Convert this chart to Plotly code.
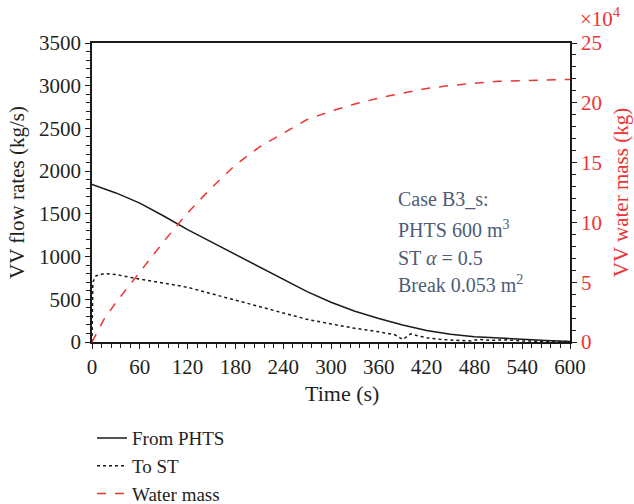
import plotly.graph_objects as go

# Time (s)
t_phts = [0, 30, 60, 90, 120, 150, 180, 210, 240, 270, 300, 330, 360, 390, 420, 450, 480, 510, 540, 570, 600]
from_phts = [1845, 1745, 1625, 1475, 1315, 1170, 1024, 880, 733, 590, 465, 360, 275, 200, 135, 90, 62, 45, 30, 17, 7]

t_st = [0, 1, 5, 15, 30, 60, 90, 120, 150, 180, 210, 240, 270, 300, 330, 360, 380, 390, 395, 400, 410,
        420, 440, 460, 475, 485, 500, 520, 540, 570, 600]
to_st = [0, 700, 775, 800, 790, 735, 690, 640, 565, 490, 415, 340, 265, 212, 160, 120, 85, 30, 60, 95, 70,
         50, 28, 18, 12, 30, 20, 25, 12, 8, 4]

t_mass = [0, 15, 30, 60, 90, 120, 150, 180, 210, 240, 270, 300, 330, 360, 390, 420, 450, 480, 510, 540, 570, 600]
water_mass_e4 = [0, 1.9, 3.3, 5.9, 8.4, 10.8, 12.9, 14.8, 16.3, 17.45, 18.6, 19.3, 19.9, 20.4, 20.8, 21.2,
                 21.45, 21.65, 21.8, 21.85, 21.9, 21.95]

x_ticks = [0, 60, 120, 180, 240, 300, 360, 420, 480, 540, 600]
y_ticks = [0, 500, 1000, 1500, 2000, 2500, 3000, 3500]
y2_ticks = [0, 5, 10, 15, 20, 25]

notes = ["Case B3_s:", "PHTS 600 m<sup>3</sup>", "ST <i>α</i> = 0.5", "Break 0.053 m<sup>2</sup>"]
note_y = [1673, 1321, 981, 676]

FONT = "Liberation Serif"
RED = "#ee3333"
TXT = "#231f20"
NOTE = "#4d5b77"
FS = 21

fig = go.Figure()
fig.add_trace(go.Scatter(x=t_phts, y=from_phts, mode="lines", name="From PHTS",
                         line=dict(color="#1a1a1a", width=1.5)))
fig.add_trace(go.Scatter(x=t_st, y=to_st, mode="lines", name="To ST",
                         line=dict(color="#1a1a1a", width=1.5, dash="dot")))
fig.add_trace(go.Scatter(x=t_mass, y=water_mass_e4, mode="lines", name="Water mass", yaxis="y2",
                         line=dict(color=RED, width=1.5, dash="dash")))

fig.update_layout(
    width=634, height=504,
    margin=dict(l=92, r=64, t=43, b=162, autoexpand=False),
    paper_bgcolor="white", plot_bgcolor="white",
    font=dict(family=FONT, size=FS, color=TXT),
    showlegend=True,
    legend=dict(x=0.0, y=-0.258, xanchor="left", yanchor="top", bgcolor="rgba(0,0,0,0)",
                font=dict(size=19, color=TXT), tracegroupgap=0, itemwidth=30),
    xaxis=dict(range=[0, 600], tickvals=x_ticks, ticks="outside", ticklen=5, tickwidth=1.2,
               tickcolor="#1a1a1a", showline=True, linecolor="#1a1a1a", linewidth=1.5, mirror=True,
               showgrid=False, zeroline=False, automargin=False,
               minor=dict(dtick=12, tick0=0, ticks="outside", ticklen=4, tickcolor="#1a1a1a")),
    yaxis=dict(range=[0, 3500], tickvals=y_ticks, ticks="outside", ticklen=5, tickwidth=1.2,
               tickcolor="#1a1a1a", showline=True, linecolor="#1a1a1a", linewidth=1.5,
               showgrid=False, zeroline=False, automargin=False,
               minor=dict(dtick=100, tick0=0, ticks="outside", ticklen=4, tickcolor="#1a1a1a"),
               title=dict(text="VV flow rates (kg/s)", font=dict(size=FS), standoff=9)),
    yaxis2=dict(range=[0, 25], tickvals=y2_ticks, overlaying="y", side="right", ticks="outside",
                ticklen=5, tickwidth=1.2, tickcolor="#1a1a1a", showline=True, linecolor="#1a1a1a",
                linewidth=1.5, showgrid=False, zeroline=False, automargin=False, tickfont=dict(color=RED),
                minor=dict(dtick=1, tick0=0, ticks="outside", ticklen=4, tickcolor="#1a1a1a"),
                title=dict(text="VV water mass (kg)", font=dict(size=FS, color=RED), standoff=12)),
)

fig.add_annotation(text="Time (s)", xref="paper", yref="paper", x=0.523, y=-0.172,
                   xanchor="center", yanchor="middle", showarrow=False,
                   font=dict(size=22, color=TXT, family=FONT))

fig.add_annotation(text="×10<sup>4</sup>", xref="paper", yref="paper", x=1.0, y=1.0,
                   xanchor="left", yanchor="bottom", yshift=10, xshift=8, showarrow=False,
                   font=dict(size=21, color=RED, family=FONT))

for txt, yy in zip(notes, note_y):
    fig.add_annotation(text=txt, x=382, y=yy, xref="x", yref="y", xanchor="left", yanchor="middle",
                       showarrow=False, font=dict(size=20, color=NOTE, family=FONT))

fig.write_html("out.html")
